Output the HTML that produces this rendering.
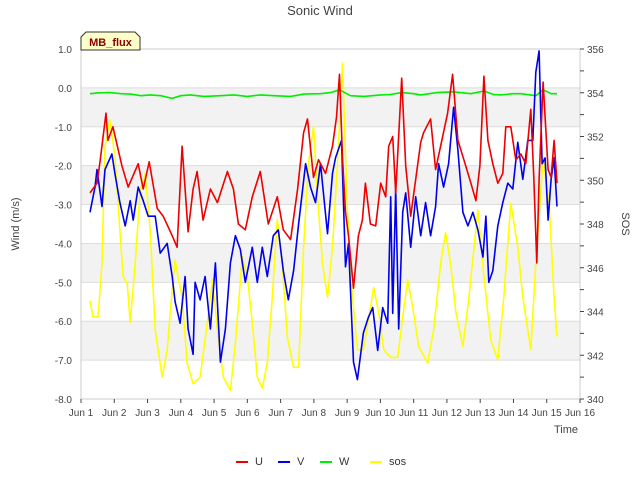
<!DOCTYPE html>
<html><head><meta charset="utf-8"><style>
body{margin:0;background:#fff;}
svg{font-family:"Liberation Sans","DejaVu Sans",sans-serif;}
</style></head><body>
<svg id="chart" width="640" height="480" viewBox="0 0 640 480" xmlns="http://www.w3.org/2000/svg">
<rect x="0" y="0" width="640" height="480" fill="#fff"/>
<g id="bands"></g>
<g id="grid"></g>
<rect x="81" y="49" width="499" height="350" fill="none" stroke="#ccc"/>
<g id="axes"></g>
<g id="series"></g>
<text x="320" y="15" text-anchor="middle" font-size="13" fill="#444">Sonic Wind</text>
<text transform="translate(19,224) rotate(-90)" text-anchor="middle" font-size="11" fill="#444">Wind (m/s)</text>
<text transform="translate(622,224) rotate(90)" text-anchor="middle" font-size="11" fill="#444">SOS</text>
<text x="578" y="433" text-anchor="end" font-size="11" fill="#444">Time</text>
<g>
<path d="M81,50 L81,37 L86,32 L135,32 L140,37 L140,50 Z" fill="#ffffc8" stroke="#333"/>
<text x="110.5" y="46" text-anchor="middle" font-size="11" font-weight="bold" fill="#8b0000">MB_flux</text>
</g>
<g id="legend"></g>
</svg>
<script>
const uT=[0.27,0.48,0.57,0.75,0.81,0.96,1.23,1.42,1.72,1.87,2.05,2.29,2.47,2.74,2.89,3.04,3.22,3.37,3.49,3.67,3.89,4.10,4.40,4.58,4.73,4.94,5.15,5.39,5.63,5.90,6.08,6.30,6.51,6.69,6.81,6.99,7.14,7.35,7.56,7.68,7.77,7.86,7.95,8.04,8.19,8.34,8.46,8.55,8.70,8.86,9.01,9.16,9.25,9.37,9.46,9.64,9.76,9.91,10.06,10.21,10.30,10.51,10.66,10.81,11.02,11.17,11.33,11.51,11.72,11.87,11.99,12.11,12.23,12.38,12.53,12.68,12.77,12.92,13.07,13.22,13.37,13.52,13.61,13.70,13.77,13.89,14.04,14.13,14.22,14.31];
const uV=[-2.7,-2.45,-1.9,-0.65,-1.35,-1.0,-2.0,-2.55,-1.95,-2.6,-1.9,-3.1,-3.3,-3.8,-4.1,-1.5,-3.7,-2.6,-2.15,-3.4,-2.6,-2.95,-2.15,-2.6,-3.5,-3.65,-2.8,-2.15,-3.5,-2.8,-3.65,-3.9,-2.6,-1.15,-0.8,-2.3,-1.85,-2.2,-1.5,-0.75,0.35,-1.8,-3.2,-3.8,-5.15,-3.8,-3.4,-2.45,-3.5,-3.55,-2.45,-2.8,-1.5,-1.25,-2.7,0.25,-2.0,-3.3,-2.35,-1.4,-1.15,-0.8,-2.1,-1.5,-0.65,0.35,-1.35,-1.85,-2.45,-2.9,-2.0,0.3,-1.35,-1.95,-2.45,-2.2,-1.0,-1.0,-1.85,-1.7,-1.95,-0.55,-2.3,-4.5,-2.35,0.15,-2.1,-2.3,-1.35,-2.45];
const vT=[0.27,0.42,0.48,0.63,0.72,0.93,1.02,1.17,1.33,1.48,1.57,1.72,1.87,2.02,2.23,2.38,2.59,2.74,2.83,2.98,3.13,3.22,3.37,3.43,3.58,3.73,3.89,4.04,4.19,4.34,4.49,4.64,4.79,4.94,5.15,5.30,5.45,5.60,5.78,5.93,6.08,6.23,6.39,6.54,6.75,6.90,7.05,7.20,7.41,7.56,7.65,7.83,7.95,8.04,8.19,8.31,8.40,8.49,8.64,8.77,8.92,9.07,9.22,9.31,9.37,9.46,9.55,9.67,9.76,9.91,10.06,10.21,10.36,10.51,10.66,10.75,10.90,11.05,11.20,11.33,11.48,11.63,11.78,11.93,12.08,12.17,12.26,12.38,12.53,12.68,12.83,12.98,13.13,13.28,13.43,13.58,13.67,13.77,13.86,13.95,14.04,14.13,14.22,14.31];
const vV=[-3.2,-2.55,-2.1,-3.05,-2.1,-1.7,-2.2,-2.95,-3.55,-2.9,-3.4,-2.55,-2.9,-3.3,-3.3,-4.25,-4.0,-4.85,-5.5,-6.05,-4.85,-6.2,-6.85,-5.0,-5.45,-4.85,-6.2,-4.5,-7.05,-6.2,-4.5,-3.8,-4.15,-5.0,-4.1,-5.0,-4.1,-4.85,-3.8,-3.65,-4.7,-5.45,-4.7,-3.5,-1.95,-2.55,-2.95,-1.95,-3.75,-2.2,-1.8,-1.35,-4.6,-4.0,-7.05,-7.5,-6.9,-6.3,-5.9,-5.65,-6.75,-5.65,-6.05,-2.8,-5.8,-2.6,-6.2,-3.2,-2.7,-4.1,-2.8,-3.8,-2.95,-3.8,-3.05,-1.95,-2.55,-1.95,-0.5,-1.6,-3.2,-3.55,-3.2,-3.65,-4.35,-3.3,-5.0,-4.7,-3.55,-2.95,-2.45,-2.6,-1.4,-2.35,-1.35,-1.35,0.4,0.95,-1.95,-1.8,-3.4,-2.35,-1.8,-3.05];
const wT=[0.27,0.5,0.87,1.2,1.48,1.8,2.08,2.4,2.74,3.0,3.28,3.7,4.19,4.6,5.0,5.39,5.8,6.30,6.7,7.20,7.5,7.77,8.10,8.5,9.01,9.3,9.64,10.0,10.21,10.7,11.17,11.5,11.72,12.11,12.4,12.62,13.0,13.22,13.67,13.89,14.13,14.31];
const wV=[-0.15,-0.13,-0.12,-0.15,-0.16,-0.2,-0.18,-0.2,-0.27,-0.2,-0.18,-0.22,-0.2,-0.18,-0.22,-0.18,-0.2,-0.22,-0.16,-0.15,-0.12,-0.05,-0.2,-0.22,-0.18,-0.17,-0.12,-0.15,-0.18,-0.12,-0.1,-0.13,-0.15,-0.08,-0.17,-0.18,-0.15,-0.15,-0.2,-0.05,-0.15,-0.15];
const sT=[0.27,0.36,0.51,0.63,0.72,0.87,1.02,1.17,1.27,1.39,1.48,1.63,1.78,1.93,2.08,2.23,2.44,2.59,2.74,2.83,3.04,3.19,3.37,3.58,3.80,3.95,4.10,4.28,4.49,4.64,4.85,5.00,5.15,5.30,5.45,5.60,5.75,5.90,6.05,6.20,6.39,6.54,6.69,6.84,6.99,7.11,7.26,7.41,7.56,7.71,7.86,8.01,8.16,8.31,8.49,8.64,8.80,8.95,9.10,9.31,9.52,9.67,9.82,9.97,10.15,10.42,10.60,10.81,10.96,11.11,11.27,11.48,11.66,11.93,12.11,12.32,12.53,12.71,12.92,13.13,13.28,13.52,13.67,13.89,14.07,14.22,14.31];
const sV=[344.5,343.75,343.75,346.2,351.5,352.75,351.1,347.7,345.6,345.3,343.5,346.2,349.55,350.3,347.7,343.15,341.0,342.25,345.0,346.35,344.65,341.65,340.7,341.0,343.5,345.45,343.15,341.0,340.4,342.55,346.5,345.6,343.5,341.0,340.5,341.65,344.65,348.2,346.2,342.85,341.45,341.45,346.95,350.8,352.45,349.25,346.2,344.65,346.95,350.8,355.35,348.5,344.65,342.25,342.25,343.6,345.1,343.95,342.25,341.9,341.9,343.75,345.45,344.2,342.4,341.65,343.15,346.2,347.6,346.2,343.95,342.4,344.65,348.65,345.6,342.7,341.8,344.65,348.95,346.95,344.65,342.25,346.2,351.05,348.95,344.65,342.85];
const leftTicks=[1.0,0.0,-1.0,-2.0,-3.0,-4.0,-5.0,-6.0,-7.0,-8.0];
const rightTicks=[340,342,344,346,348,350,352,354,356];
const xTickLabels=["Jun 1","Jun 2","Jun 3","Jun 4","Jun 5","Jun 6","Jun 7","Jun 8","Jun 9","Jun 10","Jun 11","Jun 12","Jun 13","Jun 14","Jun 15","Jun 16"];

const X0=81,X1=580,Y0=49,Y1=399;
const xs=t=>X0+t*(X1-X0)/15;
const yL=v=>Y0+(1-v)*(Y1-Y0)/9;
const yR=v=>Y0+(356-v)*(Y1-Y0)/16;
const NS="http://www.w3.org/2000/svg";
function mk(tag,attrs,parent){const e=document.createElementNS(NS,tag);for(const k in attrs)e.setAttribute(k,attrs[k]);parent.appendChild(e);return e;}
const bands=document.getElementById('bands'),grid=document.getElementById('grid'),axes=document.getElementById('axes'),series=document.getElementById('series'),legend=document.getElementById('legend');
for(let v=0;v>-8;v-=2){const r=mk('rect',{x:X0,y:yL(v),width:X1-X0,height:yL(v-1)-yL(v),fill:'#f2f2f2'},bands);

}
leftTicks.forEach(v=>{const l=mk('line',{x1:X0,x2:X1,y1:yL(v),y2:yL(v),stroke:'#ddd'},grid);


const t=mk('text',{x:72,y:yL(v)+4,'text-anchor':'end','font-size':'10',fill:'#444'},axes);t.textContent=v.toFixed(1);

});
for(let v=340;v<=356;v++){const l=mk('line',{x1:X1,x2:X1+4,y1:yR(v),y2:yR(v),stroke:'#444'},axes);

}
rightTicks.forEach(v=>{const t=mk('text',{x:587,y:yR(v)+4,'font-size':'10',fill:'#444'},axes);t.textContent=v;

});
xTickLabels.forEach((s,i)=>{const l=mk('line',{x1:xs(i),x2:xs(i),y1:Y1,y2:Y1+4,stroke:'#444'},axes);


const t=mk('text',{x:xs(i),y:Y1+17,'text-anchor':'middle','font-size':'10',fill:'#444'},axes);t.textContent=s;

});
function line(T,V,yf,col,name){const d=T.map((t,i)=>(i?'L':'M')+xs(t).toFixed(1)+','+yf(V[i]).toFixed(1)).join('');
const p=mk('path',{d:d,fill:'none',stroke:col,'stroke-width':'1.6','stroke-linejoin':'round'},series);

}
line(sT,sV,yR,'#ffff00','series-sos');
line(wT,wV,yL,'#00ee00','series-w');
line(vT,vV,yL,'#0000ee','series-v');
line(uT,uV,yL,'#ee0000','series-u');
[["U","#ee0000",236],["V","#0000ee",278],["W","#00ee00",320],["sos","#ffff00",370]].forEach(e=>{
const g=mk('g',{},legend);


mk('line',{x1:e[2],x2:e[2]+12,y1:462,y2:462,stroke:e[1],'stroke-width':'2'},g);
const t=mk('text',{x:e[2]+19,y:465,'font-size':'11',fill:'#333'},g);t.textContent=e[0];});
</script>
</body></html>
